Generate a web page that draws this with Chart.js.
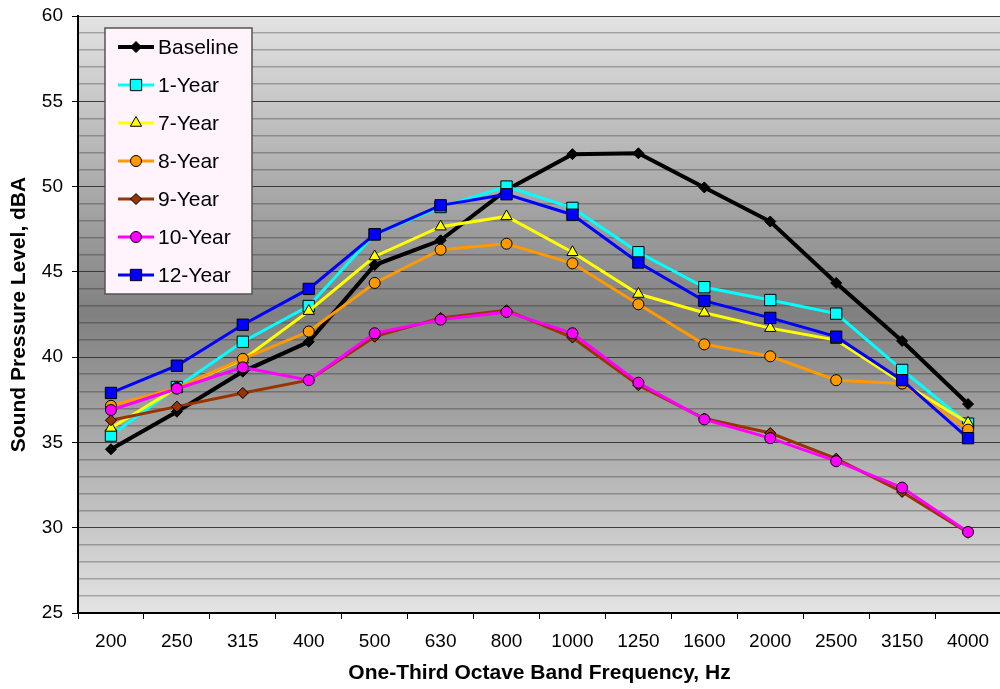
<!DOCTYPE html>
<html>
<head>
<meta charset="utf-8">
<title>Sound Pressure Level</title>
<script src="https://cdn.jsdelivr.net/npm/chart.js@4/dist/chart.umd.min.js"></script>
<style>
    html, body { margin: 0; padding: 0; background: #fff; overflow: hidden; }
    #wrap { position: relative; width: 1010px; height: 689px; }
</style>
</head>
<body>
<div id="wrap"><canvas id="splChart"></canvas></div>
<script>
// ================================================
// DATA
// ================================================
const frequencies = ['200', '250', '315', '400', '500', '630', '800', '1000', '1250', '1600', '2000', '2500', '3150', '4000'];

const baseline = [34.6, 36.8, 39.15, 40.9, 45.4, 46.85, 49.8, 51.9, 51.95, 49.95, 47.95, 44.35, 40.95, 37.25];
const year1    = [35.4, 38.25, 40.9, 43.0, 47.2, 48.8, 50.0, 48.75, 46.15, 44.1, 43.35, 42.55, 39.25, 36.1];
const year7    = [35.85, 38.2, 39.85, 42.7, 45.9, 47.65, 48.25, 46.15, 43.7, 42.6, 41.7, 41.0, 38.5, 36.15];
const year8    = [37.15, 38.2, 39.9, 41.5, 44.35, 46.3, 46.65, 45.5, 43.1, 40.75, 40.05, 38.65, 38.45, 35.75];
const year9    = [36.3, 37.1, 37.9, 38.65, 41.2, 42.3, 42.75, 41.15, 38.35, 36.4, 35.55, 34.05, 32.1, 29.7];
const year10   = [36.9, 38.15, 39.4, 38.65, 41.4, 42.2, 42.65, 41.4, 38.5, 36.35, 35.25, 33.9, 32.35, 29.75];
const year12   = [37.9, 39.5, 41.9, 44.0, 47.2, 48.9, 49.55, 48.35, 45.55, 43.3, 42.3, 41.2, 38.65, 35.25];

const seriesNames = ['Baseline', '1-Year', '7-Year', '8-Year', '9-Year', '10-Year', '12-Year'];
const seriesData  = [baseline, year1, year7, year8, year9, year10, year12];
const lineColors  = ['#000000', '#00ffff', '#ffff00', '#ff9900', '#993300', '#ff00ff', '#0000ff'];
const markerFill  = ['#000000', '#00ffff', '#ffff00', '#ff9900', '#993300', '#ff00ff', '#0000ff'];
const markerShape = ['rectRot', 'rect', 'triangle', 'circle', 'rectRot', 'circle', 'rect'];

const yTickLabels = [25, 30, 35, 40, 45, 50, 55, 60];

const FONT = 'Arial, "Liberation Sans", Helvetica, sans-serif';

// marker size per shape (chart.js radius)
function markerRadius(shape) {
    if (shape === 'rect') return 8;
    if (shape === 'triangle') return 6.5;
    if (shape === 'circle') return 5.5;
    return 5.5;
}

// ================================================
// PLUGINS
// ================================================

// Gradient background of the plot area (light - dark - light)
const plotBackground = {
    id: 'plotBackground',
    beforeDraw(chart) {
        const { ctx, chartArea: a } = chart;
        const g = ctx.createLinearGradient(0, a.top, 0, a.bottom);
        g.addColorStop(0, '#e3e3e3');
        g.addColorStop(0.5, '#808080');
        g.addColorStop(1, '#e4e4e4');
        ctx.save();
        ctx.fillStyle = g;
        ctx.fillRect(a.left, a.top, a.right - a.left, a.bottom - a.top);
        ctx.restore();
    }
};

// draw one marker by hand (used by the legend box)
function drawMarker(ctx, shape, x, y, r, fill) {
    ctx.save();
    ctx.fillStyle = fill;
    ctx.strokeStyle = '#000';
    ctx.lineWidth = 1;
    ctx.beginPath();
    if (shape === 'rect') {
        const s = r * Math.SQRT1_2;
        ctx.rect(x - s, y - s, 2 * s, 2 * s);
    } else if (shape === 'rectRot') {
        ctx.moveTo(x, y - r);
        ctx.lineTo(x + r, y);
        ctx.lineTo(x, y + r);
        ctx.lineTo(x - r, y);
        ctx.closePath();
    } else if (shape === 'triangle') {
        for (let k = 0; k < 3; k++) {
            const ang = k * 2 * Math.PI / 3;
            const px = x + Math.sin(ang) * r;
            const py = y - Math.cos(ang) * r;
            if (k === 0) ctx.moveTo(px, py); else ctx.lineTo(px, py);
        }
        ctx.closePath();
    } else {
        ctx.arc(x, y, r, 0, Math.PI * 2);
    }
    ctx.fill();
    ctx.stroke();
    ctx.restore();
}

// Boxed legend inside the plot, top-left
const boxLegend = {
    id: 'boxLegend',
    afterDraw(chart) {
        const { ctx } = chart;
        const bx = 105, by = 28, bw = 147, bh = 266;
        ctx.save();
        ctx.fillStyle = '#fff4fc';
        ctx.fillRect(bx, by, bw, bh);
        ctx.strokeStyle = '#555';
        ctx.lineWidth = 1.5;
        ctx.strokeRect(bx, by, bw, bh);

        chart.data.datasets.forEach((ds, i) => {
            const y = 47 + i * 38;
            ctx.strokeStyle = ds.borderColor;
            ctx.lineWidth = ds.borderWidth;
            ctx.beginPath();
            ctx.moveTo(118, y);
            ctx.lineTo(154, y);
            ctx.stroke();
            drawMarker(ctx, ds.pointStyle, 136, y, ds.pointRadius, ds.pointBackgroundColor);
            ctx.fillStyle = '#000';
            ctx.font = '21px ' + FONT;
            ctx.textAlign = 'left';
            ctx.textBaseline = 'middle';
            ctx.fillText(ds.label, 158, y + 1);
        });
        ctx.restore();
    }
};

// ================================================
// CHART
// ================================================
function initChart() {
    const ctx = document.getElementById('splChart');

    const datasets = seriesNames.map((name, i) => ({
        label: name,
        data: seriesData[i],
        borderColor: lineColors[i],
        backgroundColor: markerFill[i],
        borderWidth: i === 0 ? 4 : 3,
        tension: 0,
        fill: false,
        pointStyle: markerShape[i],
        pointRadius: markerRadius(markerShape[i]),
        pointBackgroundColor: markerFill[i],
        pointBorderColor: '#000',
        pointBorderWidth: 1,
        order: seriesNames.length - i   // later series drawn on top
    }));

    new Chart(ctx, {
        type: 'line',
        data: { labels: frequencies, datasets: datasets },
        plugins: [plotBackground, boxLegend],
        options: {
            responsive: true,
            maintainAspectRatio: false,
            animation: false,
            layout: { padding: { top: 16, right: 4, left: 0, bottom: 0 } },
            plugins: {
                legend: { display: false },
                tooltip: { enabled: false }
            },
            scales: {
                x: {
                    offset: true,
                    afterFit: (scale) => { scale.height = 76; },
                    border: { color: '#000', width: 2 },
                    grid: {
                        offset: true,
                        drawOnChartArea: false,
                        drawTicks: true,
                        tickLength: 6,
                        tickColor: '#000'
                    },
                    ticks: {
                        color: '#000',
                        padding: 11,
                        maxRotation: 0,
                        autoSkip: false,
                        font: { size: 19, family: FONT }
                    },
                    title: {
                        display: true,
                        text: 'One-Third Octave Band Frequency, Hz',
                        color: '#000',
                        padding: { top: 0, bottom: 3 },
                        font: { size: 21, weight: 'bold', family: FONT }
                    }
                },
                y: {
                    min: 25,
                    max: 60,
                    afterFit: (scale) => {
                        scale.width = 78;
                        scale.paddingTop = 0;
                        scale.paddingBottom = 0;
                    },
                    border: { color: '#000', width: 2 },
                    grid: {
                        color: (c) => (c.tick && c.tick.value % 5 === 0) ? '#3a3a3a' : 'rgba(0,0,0,0.26)',
                        lineWidth: (c) => (c.tick && c.tick.value % 5 === 0) ? 1 : 1.5,
                        tickLength: 6,
                        tickColor: (c) => (c.tick && c.tick.value % 5 === 0) ? '#000' : 'rgba(0,0,0,0)'
                    },
                    ticks: {
                        stepSize: 1,
                        autoSkip: false,
                        color: '#000',
                        padding: 9,
                        font: { size: 19, family: FONT },
                        callback: (v) => yTickLabels.includes(v) ? String(v) : ''
                    },
                    title: {
                        display: true,
                        text: 'Sound Pressure Level, dBA',
                        color: '#000',
                        padding: { top: 7, bottom: 0 },
                        font: { size: 21, weight: 'bold', family: FONT }
                    }
                }
            }
        }
    });
}

initChart();
</script>
</body>
</html>
